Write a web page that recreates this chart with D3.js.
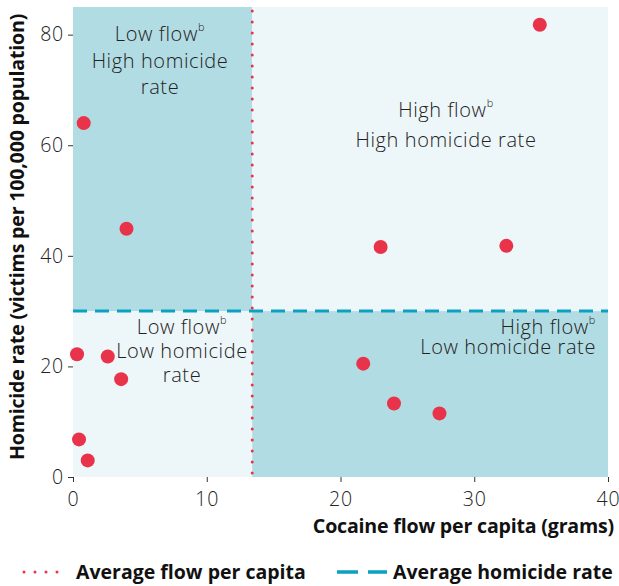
<!DOCTYPE html>
<html>
<head>
<meta charset="utf-8">
<script src="https://cdn.jsdelivr.net/npm/d3@7"></script>
<style>
  body { margin: 0; background: #fff; }
  text { font-family: "Open Sans", "Noto Sans", sans-serif; }
</style>
</head>
<body>
<svg id="chart" width="619" height="586"></svg>
<script>
var width = 619,
    height = 586;
var margin = {top: 7, right: 11, bottom: 109, left: 73};

// data
var flow = [0.3, 0.45, 1.1, 0.8, 2.6, 3.6, 4.0, 23.0, 21.7, 24.0, 27.4, 32.4, 34.9];
var homicide = [22.2, 6.8, 3.0, 64.0, 21.8, 17.7, 44.9, 41.6, 20.5, 13.3, 11.5, 41.8, 81.8];
var avgFlow = 13.4,
    avgHomicide = 30;
var xTicks = [0, 10, 20, 30, 40],
    yTicks = [0, 20, 40, 60, 80];

var x = d3.scaleLinear().domain([0, 40]).range([margin.left, width - margin.right]);
var y = d3.scaleLinear().domain([0, 85]).range([height - margin.bottom, margin.top]);

var svg = d3.select("#chart");

var dark = "#b2dce3", light = "#edf6f8";
var red = "#e8334a", blue = "#0ba1c0";
var quads = [
  {x0: 0, x1: avgFlow, y0: avgHomicide, y1: 85, fill: dark},
  {x0: avgFlow, x1: 40, y0: avgHomicide, y1: 85, fill: light},
  {x0: 0, x1: avgFlow, y0: 0, y1: avgHomicide, fill: light},
  {x0: avgFlow, x1: 40, y0: 0, y1: avgHomicide, fill: dark}
];
svg.selectAll(".quad")
  .data(quads)
  .enter().append("rect")
    .attr("class", "quad")
    .attr("x", function(d) { return x(d.x0); })
    .attr("y", function(d) { return y(d.y1); })
    .attr("width", function(d) { return x(d.x1) - x(d.x0); })
    .attr("height", function(d) { return y(d.y0) - y(d.y1); })
    .attr("fill", function(d) { return d.fill; });

// quadrant labels
var labels = [
  {cx: 160, cy: 34, lines: ["Low flow|b", "High homicide", "rate"], anchor: "middle", lh: 26.5},
  {cx: 446, cy: 110, lines: ["High flow|b", "High homicide rate"], anchor: "middle", lh: 30},
  {cx: 182, cy: 327, lines: ["Low flow|b", "Low homicide", "rate"], anchor: "middle", lh: 24},
  {cx: 596, cy: 327, lines: ["High flow|b", "Low homicide rate"], anchor: "end", lh: 20}
];
labels.forEach(function(l) {
  l.lines.forEach(function(line, i) {
    var parts = line.split("|");
    var t = svg.append("text")
      .attr("x", l.cx)
      .attr("y", l.cy + i * l.lh)
      .attr("dy", "0.35em")
      .attr("text-anchor", l.anchor)
      .attr("font-size", 20)
      .attr("font-weight", 300)
      .attr("letter-spacing", 0.6)
      .attr("fill", "#222");
    t.append("tspan").text(parts[0]);
    if (parts[1]) t.append("tspan").attr("font-size", 11).attr("dy", "-0.9em").text(parts[1]);
  });
});

// average lines
svg.append("line")
  .attr("x1", x(0)).attr("x2", x(40))
  .attr("y1", y(avgHomicide)).attr("y2", y(avgHomicide))
  .attr("stroke", blue)
  .attr("stroke-width", 3)
  .attr("stroke-dasharray", "14,8");

svg.append("line")
  .attr("x1", x(avgFlow)).attr("x2", x(avgFlow))
  .attr("y1", y(85) + 4).attr("y2", y(0))
  .attr("stroke", red)
  .attr("stroke-width", 3)
  .attr("stroke-linecap", "round")
  .attr("stroke-dasharray", "0,11");

// points
svg.selectAll(".dot")
  .data(flow)
  .enter().append("circle")
    .attr("class", "dot")
    .attr("cx", function(d) { return x(d); })
    .attr("cy", function(d, i) { return y(homicide[i]); })
    .attr("r", 7)
    .attr("fill", red);

// axes
var xAxis = svg.append("g")
  .attr("transform", "translate(0," + y(0) + ")")
  .call(d3.axisBottom(x).tickValues(xTicks).tickSize(5).tickPadding(10));
var yAxis = svg.append("g")
  .attr("transform", "translate(" + x(0) + ",0)")
  .call(d3.axisLeft(y).tickValues(yTicks).tickSize(5).tickPadding(4));
[xAxis, yAxis].forEach(function(g) {
  g.select(".domain").remove();
  g.selectAll(".tick line").attr("stroke", "#333");
  g.selectAll(".tick text")
    .attr("font-size", 19.5)
    .attr("font-weight", 300)
    .attr("letter-spacing", 0.8)
    .attr("fill", "#222")
    .style("font-family", "'Open Sans', sans-serif");
});

svg.append("text")
  .attr("x", 614)
  .attr("y", 533)
  .attr("text-anchor", "end")
  .attr("font-size", 19.6)
  .attr("font-weight", 700)
  .attr("fill", "#111")
  .attr("letter-spacing", -0.2)
  .text("Cocaine flow per capita (grams)");

svg.append("text")
  .attr("transform", "translate(24," + 237 + ") rotate(-90)")
  .attr("text-anchor", "middle")
  .attr("font-size", 19.6)
  .attr("font-weight", 700)
  .attr("fill", "#111")
  .attr("letter-spacing", -0.2)
  .text("Homicide rate (victims per 100,000 population)");

// legend
var legendY = 572;
svg.append("line")
  .attr("x1", 24).attr("x2", 68)
  .attr("y1", legendY).attr("y2", legendY)
  .attr("stroke", red)
  .attr("stroke-width", 3)
  .attr("stroke-linecap", "round")
  .attr("stroke-dasharray", "0,11");
svg.append("text")
  .attr("x", 76).attr("y", legendY).attr("dy", "0.35em")
  .attr("font-size", 19.5).attr("font-weight", 700).attr("fill", "#111")
  .attr("letter-spacing", 0)
  .text("Average flow per capita");
svg.append("line")
  .attr("x1", 337).attr("x2", 387)
  .attr("y1", legendY).attr("y2", legendY)
  .attr("stroke", blue)
  .attr("stroke-width", 3.5)
  .attr("stroke-dasharray", "21,10");
svg.append("text")
  .attr("x", 393).attr("y", legendY).attr("dy", "0.35em")
  .attr("font-size", 19.5).attr("font-weight", 700).attr("fill", "#111")
  .attr("letter-spacing", 0)
  .text("Average homicide rate");
</script>
</body>
</html>
